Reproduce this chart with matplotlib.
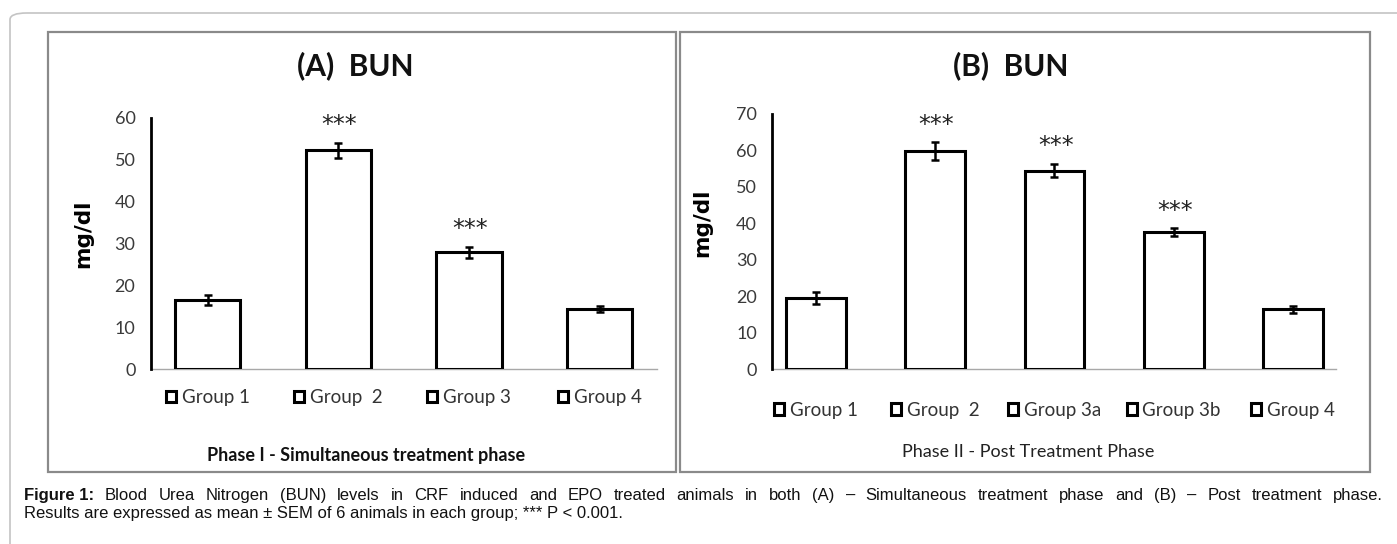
import matplotlib
matplotlib.use("Agg")
import matplotlib.pyplot as plt
from matplotlib.patches import Rectangle, FancyBboxPatch
from matplotlib.legend import Legend
import matplotlib.transforms as mtransforms
import numpy as np

# ---------------- data ----------------
groups_a = ["Group 1", "Group  2", "Group 3", "Group 4"]
bun_a = [16.5, 52.3, 27.9, 14.4]
sem_a = [1.2, 1.8, 1.4, 0.8]
stars_a = ["", "***", "***", ""]

groups_b = ["Group 1", "Group  2", "Group 3a", "Group 3b", "Group 4"]
bun_b = [19.5, 59.9, 54.5, 37.6, 16.4]
sem_b = [1.7, 2.4, 1.8, 1.1, 1.0]
stars_b = ["", "***", "***", "***", ""]

yticks_a = [0, 10, 20, 30, 40, 50, 60]
yticks_b = [0, 10, 20, 30, 40, 50, 60, 70]

title_a = "(A)  BUN"
title_b = "(B)  BUN"
phase_a = "Phase I - Simultaneous treatment phase"
phase_b = "Phase II - Post Treatment Phase"
ylabel = "mg/dl"
caption_bold = "Figure 1:"
caption_1 = ("Blood Urea Nitrogen (BUN) levels in CRF induced and EPO treated animals in both "
             "(A) \u2013 Simultaneous treatment phase and (B) \u2013 Post treatment phase.")
caption_2 = "Results are expressed as mean \u00b1 SEM of 6 animals in each group; *** P < 0.001."

# ---------------- layout ----------------
W, H = 1397, 544
fig = plt.figure(figsize=(W / 100, H / 100), dpi=100)
fig.patch.set_facecolor("white")

def fx(px):
    return px / W

def fy(py):
    return 1 - py / H

SANS = ["Lato", "DejaVu Sans"]
CAP = ["Liberation Sans", "DejaVu Sans"]

# outer rounded frame
outer = FancyBboxPatch((fx(10), fy(560)), fx(1420), (560 - 13) / H,
                       boxstyle="round,pad=0,rounding_size=0.012",
                       transform=fig.transFigure, fill=False,
                       edgecolor="#c4c4c4", linewidth=1.2, zorder=0)
fig.patches.append(outer)

# panel frames
for (x0, x1) in [(47.5, 676), (680, 1370)]:
    r = Rectangle((fx(x0), fy(472)), fx(x1 - x0), (472 - 32) / H,
                  transform=fig.transFigure, fill=False,
                  edgecolor="#8a8a8a", linewidth=1.6, zorder=0)
    fig.patches.append(r)


def panel(rect, groups, vals, errs, stars, yticks, legend_y):
    ax = fig.add_axes(rect)
    x = np.arange(len(groups))
    handles = []
    for i in range(len(groups)):
        b = ax.bar(x[i], vals[i], width=0.5, color="white", edgecolor="black",
                   linewidth=2.2, label=groups[i], zorder=2)
        handles.append(b)
    ax.errorbar(x, vals, yerr=errs, fmt="none", ecolor="black", elinewidth=1.8,
                capsize=3.2, capthick=1.8, zorder=3)
    for i, s in enumerate(stars):
        if s:
            ax.annotate(s, xy=(x[i], vals[i] + errs[i]), xytext=(1, 4),
                        textcoords="offset points", ha="center", va="bottom",
                        fontsize=17, family=["DejaVu Sans"], color="#222222")
    ax.set_ylim(0, yticks[-1])
    ax.set_yticks(yticks)
    ax.set_xticks([])
    for sp in ["top", "right"]:
        ax.spines[sp].set_visible(False)
    ax.spines["left"].set_linewidth(2.0)
    ax.spines["left"].set_color("black")
    ax.spines["bottom"].set_linewidth(1.0)
    ax.spines["bottom"].set_color("#a8a8a8")
    ax.spines["bottom"].set_zorder(1)
    ax.tick_params(axis="y", length=0, pad=11, labelsize=13, labelcolor="#3a3a3a")
    for lab in ax.get_yticklabels():
        lab.set_family(SANS)
    # legend entries, one under each bar
    trans = mtransforms.blended_transform_factory(ax.transData, ax.transAxes)
    for i, h in enumerate(handles):
        lg = Legend(ax, [h], [groups[i]], loc="center", bbox_to_anchor=(x[i], legend_y),
                    bbox_transform=trans, frameon=False, handlelength=0.55,
                    handleheight=0.55, handletextpad=0.3, borderpad=0,
                    prop={"family": SANS, "size": 13.5})
        for t in lg.get_texts():
            t.set_color("#333333")
        ax.add_artist(lg)
    return ax

# axes A: left 150.7 px, right 657 px, zero 369.3 px, top 118 px
n_a = len(groups_a)
ax_a = panel([fx(150.7), fy(369.3), fx(657 - 150.7), (369.3 - 118) / H],
             groups_a, bun_a, sem_a, stars_a, yticks_a, -0.114)
ax_a.set_xlim(-0.435, n_a - 1 + 0.44)

n_b = len(groups_b)
ax_b = panel([fx(772.3), fy(369.3), fx(1336 - 772.3), (369.3 - 114) / H],
             groups_b, bun_b, sem_b, stars_b, yticks_b, -0.16)
ax_b.set_xlim(-0.364, n_b - 1 + 0.36)

# titles
fig.text(fx(355), fy(66), title_a, ha="center", va="center", fontsize=21.5,
         fontweight="bold", family=SANS, color="#111111")
fig.text(fx(1011), fy(66), title_b, ha="center", va="center", fontsize=21.5,
         fontweight="bold", family=SANS, color="#111111")

# y labels
fig.text(fx(83), fy(234), ylabel, rotation=90, ha="center", va="center",
         fontsize=15.5, fontweight="bold", family=["DejaVu Sans"], color="black")
fig.text(fx(702), fy(223), ylabel, rotation=90, ha="center", va="center",
         fontsize=15.5, fontweight="bold", family=["DejaVu Sans"], color="black")

# phase labels
fig.text(fx(366), fy(455), phase_a, ha="center", va="center", fontsize=13,
         fontweight="bold", family=SANS, color="#111111")
fig.text(fx(1028), fy(452), phase_b, ha="center", va="center", fontsize=13,
         family=SANS, color="#222222")

# caption: first line justified between x0 and x1
cap_x0, cap_x1, cap_fs = 24, 1383, 12
fig.canvas.draw()
renderer = fig.canvas.get_renderer()
pieces = [(caption_bold, "bold")] + [(w, "normal") for w in caption_1.split(" ")]
arts = []
widths = []
for txt, wt in pieces:
    a = fig.text(0, fy(500), txt, ha="left", va="baseline", fontsize=cap_fs,
                 fontweight=wt, family=CAP, color="#111111")
    arts.append(a)
    widths.append(a.get_window_extent(renderer).width)
gap = (cap_x1 - cap_x0 - sum(widths)) / (len(pieces) - 1)
xpos = cap_x0
for a, wdt in zip(arts, widths):
    a.set_x(xpos / W)
    xpos += wdt + gap
fig.text(fx(cap_x0), fy(518), caption_2, ha="left", va="baseline", fontsize=cap_fs,
         family=CAP, color="#111111")

fig.savefig("out.png", dpi=100, facecolor="white")
